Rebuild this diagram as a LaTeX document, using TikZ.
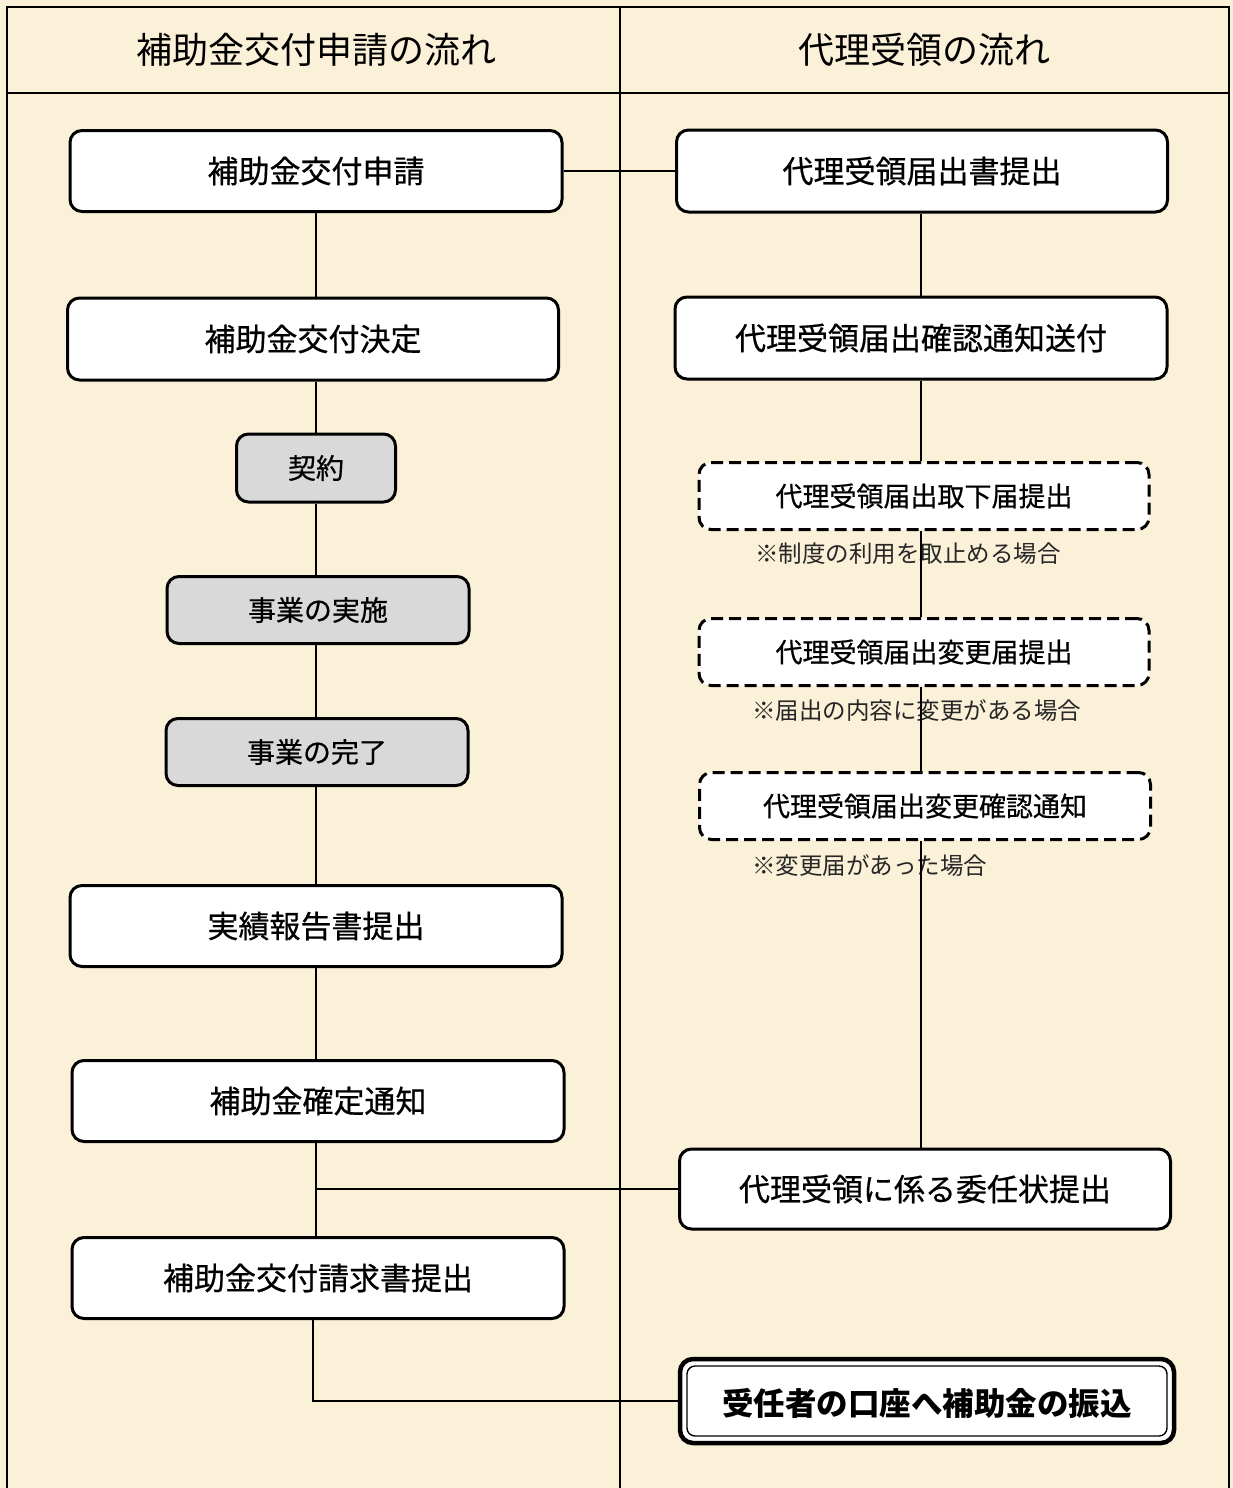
\documentclass[tikz,border=0pt]{standalone}
\usepackage{fontspec}
\setmainfont{Noto Sans CJK JP}
\newfontfamily\jpmed[FakeBold=0.6]{Noto Sans CJK JP}
\newfontfamily\jpreg{Noto Sans CJK JP}
\definecolor{parch}{HTML}{FBF0D8}
\definecolor{boxgray}{HTML}{D9D9D9}
\tikzset{
  framel/.style={line width=1.3pt, draw=black},
  conn/.style={line width=2pt, draw=black},
  wbox/.style={draw, line width=3pt, rounded corners=12pt, fill=white, inner sep=0pt,
     font=\jpmed\fontsize{31}{31}\selectfont, minimum width=492pt, minimum height=81pt},
  gbox/.style={wbox, fill=boxgray, font=\jpmed\fontsize{28}{28}\selectfont, minimum height=67pt},
  dbox/.style={wbox, dash pattern=on 12pt off 6pt, font=\jpmed\fontsize{27}{27}\selectfont,
     minimum width=450pt, minimum height=67pt},
  note/.style={anchor=west, inner sep=0pt, text=black!85, font=\jpreg\fontsize{23.5}{23.5}\selectfont},
  head/.style={inner sep=0pt, font=\jpreg\fontsize{36}{36}\selectfont}
}
\begin{document}
\begin{tikzpicture}[x=1pt,y=-1pt]
\useasboundingbox (0,0) rectangle (1233,1488);
\fill[parch] (0,0) rectangle (1233,1488);
% frame
\draw[framel] (7,1488) -- (7,7) -- (1229,7) -- (1229,1488);
\draw[framel] (620,7) -- (620,1488);
\draw[framel] (7,93) -- (1229,93);
% headers
\node[head] (h1) at (316,50) {補助金交付申請の流れ};
\node[head] (h2) at (924,50) {代理受領の流れ};
% left column
\node[wbox] (L1) at (316,171) {補助金交付申請};
\node[wbox, minimum width=491pt, minimum height=82pt] (L2) at (313,339) {補助金交付決定};
\node[gbox, minimum width=159pt, minimum height=68pt] (L3) at (316,468) {契約};
\node[gbox, minimum width=302pt] (L4) at (318,610) {事業の実施};
\node[gbox, minimum width=302pt] (L5) at (317,752) {事業の完了};
\node[wbox] (L6) at (316,926) {実績報告書提出};
\node[wbox] (L7) at (318,1101) {補助金確定通知};
\node[wbox] (L8) at (318,1278) {補助金交付請求書提出};
% right column
\node[wbox, minimum width=491pt, minimum height=82pt] (R1) at (922,171) {代理受領届出書提出};
\node[wbox, minimum height=82pt] (R2) at (921,338) {代理受領届出確認通知送付};
\node[dbox] (R3) at (924,496) {代理受領届出取下届提出};
\node[dbox] (R4) at (924,652) {代理受領届出変更届提出};
\node[dbox, minimum width=451pt] (R5) at (925,806) {代理受領届出変更確認通知};
\node[wbox, minimum width=491pt, minimum height=80pt] (R6) at (925,1189) {代理受領に係る委任状提出};
\node[draw, line width=4.5pt, rounded corners=13pt, fill=white, inner sep=0pt,
      minimum width=494pt, minimum height=84pt] (R7) at (927,1401) {};
\node[draw, line width=1.4pt, rounded corners=8pt, inner sep=0pt,
      minimum width=480pt, minimum height=70pt] (R7i) at (927,1401) {};
\node[inner sep=0pt, font=\jpreg\bfseries\fontsize{31.5}{31.5}\selectfont] (R7t) at (927,1403) {受任者の口座へ補助金の振込};
% notes
\node[note] (n1) at (755,554) {※制度の利用を取止める場合};
\node[note] (n2) at (752,711) {※届出の内容に変更がある場合};
\node[note] (n3) at (752,866) {※変更届があった場合};
% connectors left
\coordinate (lx) at (316,0);
\draw[conn] (L1.south -| lx) -- (L2.north -| lx);
\draw[conn] (L2.south -| lx) -- (L3.north -| lx);
\draw[conn] (L3.south -| lx) -- (L4.north -| lx);
\draw[conn] (L4.south -| lx) -- (L5.north -| lx);
\draw[conn] (L5.south -| lx) -- (L6.north -| lx);
\draw[conn] (L6.south -| lx) -- (L7.north -| lx);
\draw[conn] (L7.south -| lx) -- (L8.north -| lx);
\coordinate (J) at (316,1189);
\draw[conn] (J) -- (R6.west);
\coordinate (lx2) at (313,0);
\draw[conn] (L8.south -| lx2) |- (R7.west);
% connectors right
\draw[conn] (L1.east) -- (L1.east -| R1.west);
\coordinate (rx) at (921,0);
\draw[conn] (R1.south -| rx) -- (R2.north -| rx);
\draw[conn] (R2.south -| rx) -- (R3.north -| rx);
\draw[conn] (R3.south -| rx) -- (R4.north -| rx);
\draw[conn] (R4.south -| rx) -- (R5.north -| rx);
\draw[conn] (R5.south -| rx) -- (R6.north -| rx);
\end{tikzpicture}
\end{document}
